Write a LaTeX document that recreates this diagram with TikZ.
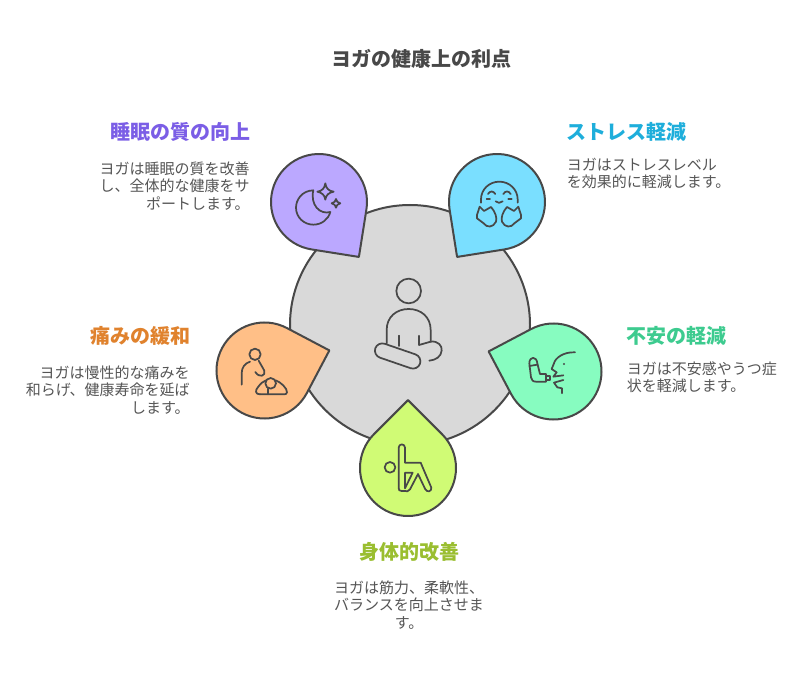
\documentclass[tikz,border=0pt]{standalone}
\usepackage{fontspec}
\setmainfont{Noto Sans CJK JP}
\definecolor{outl}{HTML}{484848}
\definecolor{bodyc}{HTML}{555555}
\definecolor{gcirc}{HTML}{D9D9D9}
\definecolor{cpurple}{HTML}{BBA8FF}
\definecolor{cblue}{HTML}{7ADFFF}
\definecolor{corange}{HTML}{FFBF87}
\definecolor{cgreen}{HTML}{87FCC0}
\definecolor{clime}{HTML}{D0FB75}
\definecolor{tpurple}{HTML}{7B5EE6}
\definecolor{tblue}{HTML}{1EAEDB}
\definecolor{torange}{HTML}{E0822D}
\definecolor{tgreen}{HTML}{3DCB8F}
\definecolor{tlime}{HTML}{9ABE30}
\tikzset{
  shapeline/.style={draw=outl,line width=1.5pt,line join=round},
  icon/.style={draw=outl,line width=1.3pt,line cap=round,line join=round,fill=none},
  ttl/.style={font=\fontsize{15pt}{18pt}\bfseries\selectfont,inner sep=0pt},
  bod/.style={font=\fontsize{11.25pt}{13.1pt}\selectfont,text=bodyc,inner sep=0pt},
}
\lineskiplimit=-100pt
% \dropshape{cx}{cy}{angle of tip}{colour}
\newcommand{\dropshape}[4]{%
  \draw[shapeline,fill=#4] (#1,#2)++(#3:67.9) -- ({#1+48*cos(#3+45)},{#2+48*sin(#3+45)})
    arc[start angle={#3+45},end angle={#3+315},radius=48] -- cycle;}
\begin{document}
\lineskiplimit=-100pt
\begin{tikzpicture}[x=.75pt,y=.75pt,yscale=-1]
\useasboundingbox (0,0) rectangle (804,684);
\fill[white] (0,0) rectangle (804,684);
\node[ttl,text=outl] (title) at (421.5,59) {ヨガの健康上の利点};
\draw[shapeline,fill=gcirc] (410,325) circle[radius=120];
\dropshape{319}{202}{54}{cpurple}
\dropshape{497}{202}{126}{cblue}
\dropshape{264.5}{370.5}{-17.2}{corange}
\dropshape{553.5}{371.5}{197.2}{cgreen}
\dropshape{408}{468}{-90}{clime}
% centre figure (zoom 2 coordinates)
\begin{scope}[shift={(210,270)},scale=1/3]
\draw[icon] (596,63) circle[radius=37];
\draw[icon] (530,220) -- (530,180) .. controls (530,140) and (560,117) .. (596,117) .. controls (632,117) and (662,140) .. (662,180) -- (662,215);
\draw[icon] (567,197) -- (567,228);
\draw[icon] (627,197) -- (627,225) -- (662,215) .. controls (685,212) and (697,228) .. (695,242) .. controls (693,260) and (678,270) .. (658,272);
\draw[icon,rotate around={19:(563,258)},rounded corners=5.6pt] (492,236) rectangle (634,280);
% orange icon
\draw[icon] (135,253) circle[radius=17];
\draw[icon] (95,344) -- (95,310) .. controls (95,292) and (105,280) .. (120,275);
\draw[icon] (146,272) -- (163,302) .. controls (168,318) and (148,325) .. (136,306);
\draw[icon] (150,373) .. controls (136,373) and (134,362) .. (145,350) .. controls (152,340) and (160,334) .. (168,331);
\draw[icon] (197,331) .. controls (212,336) and (232,355) .. (231,367) .. controls (231,372) and (226,373) .. (222,373) -- (150,373);
\draw[icon] (182,340) circle[radius=16];
\draw[icon] (175,356) -- (175,373);
\end{scope}
% moon, stars, blue icon (zoom 1 coordinates)
\begin{scope}[shift={(260,140)},scale=1/3]
\draw[icon] (160,151) .. controls (125,152) and (108,180) .. (108,203) .. controls (108,232) and (132,254) .. (160,254) .. controls (185,254) and (205,238) .. (211,216) .. controls (180,225) and (150,195) .. (160,151) -- cycle;
\draw[icon] (196,130) .. controls (198,145) and (206,153) .. (221,155) .. controls (206,158) and (198,165) .. (196,179) .. controls (194,165) and (186,158) .. (172,155) .. controls (186,153) and (194,145) .. (196,130) -- cycle;
\draw[icon] (228,177) .. controls (229,184) and (233,188) .. (241,190) .. controls (233,192) and (229,196) .. (228,203) .. controls (227,196) and (223,192) .. (215,190) .. controls (223,188) and (227,184) .. (228,177) -- cycle;
\draw[icon] (663,188) -- (663,178) .. controls (663,148) and (688,125) .. (718,125) .. controls (748,125) and (773,148) .. (773,178) -- (773,188);
\draw[icon] (684,162) .. controls (690,152) and (700,152) .. (706,162);
\draw[icon] (730,162) .. controls (736,152) and (746,152) .. (752,162);
\draw[icon] (680,177) -- (690,177);
\draw[icon] (745,177) -- (755,177);
\draw[icon] (707,184) .. controls (712,190) and (722,190) .. (728,184);
\draw[icon] (659,200) -- (672,213) -- (693,201) .. controls (706,215) and (712,235) .. (708,245) .. controls (700,263) and (680,264) .. (671,250) -- (651,235) .. controls (648,230) and (649,228) .. (651,225) -- cycle;
\draw[icon] (775,200) -- (762,213) -- (741,201) .. controls (728,215) and (722,235) .. (726,245) .. controls (734,263) and (754,264) .. (763,250) -- (783,235) .. controls (786,230) and (785,228) .. (783,225) -- cycle;
\end{scope}
% inhaler + face, lime icon (zoom 3 coordinates)
\begin{scope}[shift={(350,320)},scale=1/3]
\draw[icon] (538,130) .. controls (538,108) and (560,108) .. (562,130) -- (570,162) -- (588,162) -- (588,185) -- (558,185) .. controls (548,185) and (545,180) .. (543,172) -- cycle;
\draw[icon] (538,138) -- (562,134);
\draw[icon] (588,167) -- (600,167) -- (600,181) -- (588,181);
\draw[icon] (675,97) .. controls (640,95) and (615,115) .. (612,130) -- (605,147) -- (620,157) -- (610,170) -- (640,166);
\draw[icon] (640,180) -- (612,188) -- (622,202) -- (636,205) -- (636,220);
\fill[outl] (642,132) circle[radius=3.5];
\draw[icon] (120,442) circle[radius=16];
\draw[icon] (146,383) .. controls (146,370) and (165,370) .. (165,383) -- (165,428) -- (212,428) -- (244,503) .. controls (245,515) and (232,518) .. (226,508) -- (204,462) -- (180,508) .. controls (176,516) and (168,514) .. (165,513) -- (155,513) .. controls (148,513) and (146,510) .. (146,504) -- cycle;
\draw[icon] (165,458) -- (188,458) -- (165,505) -- cycle;
\end{scope}
% labels
\node[ttl,text=tpurple,anchor=east] (h1) at (250.5,132) {睡眠の質の向上};
\node[bod,align=right,anchor=north east] (b1) at (250,161.5) {ヨガは睡眠の質を改善\\し、全体的な健康をサ\\ポートします。};
\node[ttl,text=tblue,anchor=west] (h2) at (566,132) {ストレス軽減};
\node[bod,align=left,anchor=north west] (b2) at (566.5,157.5) {ヨガはストレスレベル\\を効果的に軽減します。};
\node[ttl,text=torange,anchor=east] (h3) at (190.5,336) {痛みの緩和};
\node[bod,align=right,anchor=north east] (b3) at (190,365.5) {ヨガは慢性的な痛みを\\和らげ、健康寿命を延ば\\します。};
\node[ttl,text=tgreen,anchor=west] (h4) at (626,336) {不安の軽減};
\node[bod,align=left,anchor=north west] (b4) at (626.5,361.5) {ヨガは不安感やうつ症\\状を軽減します。};
\node[ttl,text=tlime] (h5) at (409,552) {身体的改善};
\node[bod,align=center,anchor=north] (b5) at (409,580.5) {ヨガは筋力、柔軟性、\\バランスを向上させま\\す。};
\end{tikzpicture}
\end{document}
